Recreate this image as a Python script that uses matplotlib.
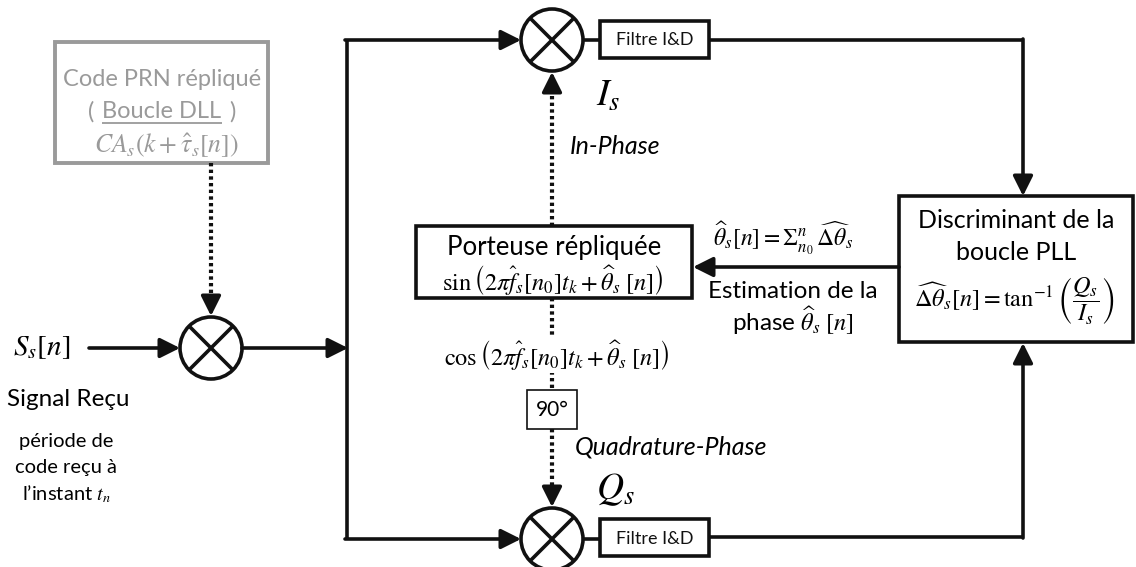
"""
PLL tracking loop block diagram (I/Q demodulation with PLL discriminant).
Drawn in pixel coordinates on a single axis covering the whole figure.
"""

import matplotlib
matplotlib.use("Agg")
import matplotlib.pyplot as plt
from matplotlib.patches import Circle, Rectangle, FancyArrowPatch

plt.rcParams["font.family"] = ["Lato", "DejaVu Sans"]
plt.rcParams["mathtext.fontset"] = "stix"

# ---------------------------------------------------------------------------
# Labels
# ---------------------------------------------------------------------------
DLL_LINES = ["Code PRN répliqué", "Boucle DLL", r"$CA_s(k+\hat{\tau}_s[n])$"]
CARRIER_LINES = ["Porteuse répliquée",
                 r"$\sin\left(2\pi\widehat{f}_s[n_0]t_k+\widehat{\theta}_s\;[n]\right)$"]
DISC_LINES = ["Discriminant de la", "boucle PLL",
              r"$\widehat{\Delta\theta}_s[n]=\tan^{-1}\left(\dfrac{Q_s}{I_s}\right)$"]
FILTER_LABEL = "Filtre I&D"
SHIFT_LABEL = "90°"
INPUT_LABEL = r"$S_s[n]$"
SIGNAL_LINES = ["Signal Reçu"]
NOTE_LINES = ["période de", "code reçu à", r"l’instant $t_n$"]
PHASE_SUM = r"$\widehat{\theta}_s[n]=\Sigma_{n_0}^{n}\,\widehat{\Delta\theta}_s$"
PHASE_EST = ["Estimation de la", r"phase $\widehat{\theta}_s\;[n]$"]
COS_LABEL = r"$\cos\left(2\pi\widehat{f}_s[n_0]t_k+\widehat{\theta}_s\;[n]\right)$"
I_LABEL, Q_LABEL = r"$I_s$", r"$Q_s$"
INPHASE, QUADPHASE = "In-Phase", "Quadrature-Phase"

W, H = 1136, 567
fig = plt.figure(figsize=(W / 100, H / 100), dpi=100)
ax = fig.add_axes([0, 0, 1, 1])
ax.set_xlim(0, W)
ax.set_ylim(H, 0)
ax.axis("off")

K = "#111111"
GRAY = "#9a9a9a"
LW = 2.6
DOT_LW = 3.0
DOTS = (0, (0.8, 0.8))
R = 31
HEAD = 17  # arrow head length, px


def line(xs, ys, **kw):
    ax.plot(xs, ys, color=kw.pop("color", K), lw=kw.pop("lw", LW),
            solid_capstyle="butt", **kw)


def arrow(p0, p1, dotted=False):
    if dotted:
        # dotted shaft, solid head
        (x0, y0), (x1, y1) = p0, p1
        d = ((x1 - x0) ** 2 + (y1 - y0) ** 2) ** 0.5
        ux, uy = (x1 - x0) / d, (y1 - y0) / d
        hx, hy = x1 - ux * HEAD, y1 - uy * HEAD
        line([x0, hx], [y0, hy], lw=DOT_LW, linestyle=DOTS)
        p0 = (hx - ux * 2, hy - uy * 2)
    a = FancyArrowPatch(p0, p1, arrowstyle="-|>,head_length=0.8,head_width=0.4",
                        mutation_scale=15, color=K, lw=LW,
                        shrinkA=0, shrinkB=0)
    ax.add_patch(a)


def mixer(cx, cy):
    ax.add_patch(Circle((cx, cy), R, fill=False, ec=K, lw=LW))
    d = R * 0.707
    line([cx - d, cx + d], [cy - d, cy + d])
    line([cx - d, cx + d], [cy + d, cy - d])


def box(x0, y0, x1, y1, ec=K, lw=LW):
    ax.add_patch(Rectangle((x0, y0), x1 - x0, y1 - y0, fill=False, ec=ec, lw=lw))


# --- mixers and filters ---
mix_top, mix_bot, mix_in = (552, 40), (552, 539), (211, 348)
for m in (mix_top, mix_bot, mix_in):
    mixer(*m)

for (cy, y0, y1) in ((40, 21, 58), (539, 519, 556)):
    box(600, y0, 709, y1)
    ax.text(655, cy, FILTER_LABEL, ha="center", va="center", fontsize=13, color=K)
    line([mix_top[0] + R, 600], [cy, cy])

# filter outputs to discriminant
line([709, 1024], [40, 40])
arrow((1023, 39), (1023, 196))
line([709, 1024], [537, 537])
arrow((1023, 538), (1023, 343))

# discriminant box
box(899, 196, 1133, 342)
ax.text(1016, 221, DISC_LINES[0], ha="center", va="center", fontsize=18)
ax.text(1016, 253, DISC_LINES[1], ha="center", va="center", fontsize=18)
ax.text(1014, 301, DISC_LINES[2], ha="center", va="center", fontsize=17.5)

# feedback to carrier NCO
arrow((899, 267), (693, 267))
ax.text(783, 238, PHASE_SUM, ha="center", va="center", fontsize=17)
ax.text(793, 291, PHASE_EST[0], ha="center", va="center", fontsize=17.5)
ax.text(793, 321, PHASE_EST[1], ha="center", va="center", fontsize=17.5)

# carrier box
box(416, 226, 692, 298)
ax.text(554, 248, CARRIER_LINES[0], ha="center", va="center", fontsize=18.5)
ax.text(553, 280, CARRIER_LINES[1], ha="center", va="center", fontsize=17.5)

# dotted paths from carrier
arrow((552, 226), (552, 72), dotted=True)
line([552, 552], [298, 390], lw=DOT_LW, linestyle=DOTS)
box(527, 390, 577, 429, lw=1.2)
ax.text(552, 410, SHIFT_LABEL, ha="center", va="center", fontsize=15)
arrow((552, 429), (552, 507), dotted=True)
ax.text(557, 355, COS_LABEL, ha="center", va="center", fontsize=17.5,
        bbox=dict(fc="white", ec="none", pad=0.5))

ax.text(596, 95, I_LABEL, ha="left", va="center", fontsize=27)
ax.text(570, 146, INPHASE, ha="left", va="center", fontsize=18, style="italic")
ax.text(575, 447, QUADPHASE, ha="left", va="center", fontsize=18, style="italic")
ax.text(596, 490, Q_LABEL, ha="left", va="center", fontsize=27)

# splitter
line([347, 347], [40, 539])
arrow((345, 40), (mix_top[0] - R, 40))
arrow((345, 539), (mix_bot[0] - R, 539))
arrow((mix_in[0] + R, 348), (348, 348))

# input
ax.text(13, 348, INPUT_LABEL, ha="left", va="center", fontsize=21)
arrow((89, 348), (mix_in[0] - R, 348))
ax.text(68, 400, SIGNAL_LINES[0], ha="center", va="center", fontsize=17.5)
for i, s in enumerate(NOTE_LINES):
    ax.text(66, 442 + i * 26, s, ha="center", va="center", fontsize=14.5)

# DLL box (grey)
DLL_CX = 162
box(55, 42, 268, 163, ec=GRAY, lw=2.8)
ax.text(DLL_CX, 79, DLL_LINES[0], ha="center", va="center", fontsize=17, color=GRAY)
t = ax.text(DLL_CX, 112, DLL_LINES[1], ha="center", va="center", fontsize=17,
            color=GRAY)
fig.canvas.draw()
bb = t.get_window_extent().transformed(ax.transData.inverted())
x0, x1 = min(bb.x0, bb.x1), max(bb.x0, bb.x1)
line([x0, x1], [123, 123], color=GRAY, lw=1.3)
ax.text(x0 - 8, 112, "(", ha="right", va="center", fontsize=17, color=GRAY)
ax.text(x1 + 8, 112, ")", ha="left", va="center", fontsize=17, color=GRAY)
ax.text(DLL_CX + 4, 146, DLL_LINES[2], ha="center", va="center", fontsize=18.5,
        color=GRAY)
arrow((211, 163), (211, 316), dotted=True)

fig.savefig("out.png", dpi=100)
plt.close(fig)
